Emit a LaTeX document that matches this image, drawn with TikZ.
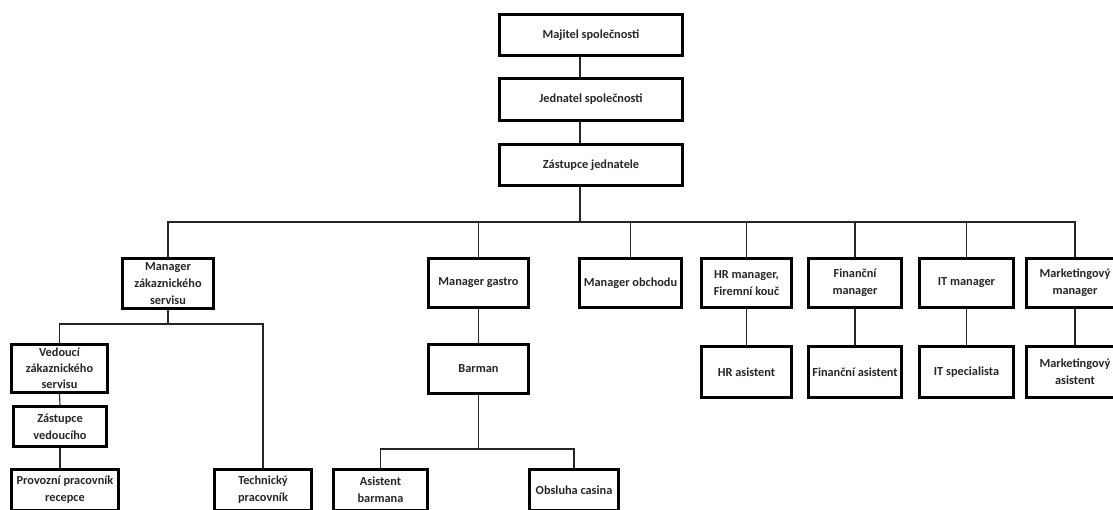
\documentclass[tikz,border=0pt]{standalone}
\usepackage{fontspec}
\setmainfont{Carlito}
\begin{document}
\begin{tikzpicture}[x=1pt,y=-1pt,
  box/.style={draw=black, line width=3pt, rectangle, inner sep=0pt, align=center,
    font=\bfseries\fontsize{12.3}{17}\selectfont, text=black!85},
  conn/.style={draw=black!85, line width=1.1pt}]
\useasboundingbox (0,0) rectangle (1113,509);
\clip (0,0) rectangle (1113,509);
\fill[white] (0,0) rectangle (1113,509);
% top chain
\node[box, minimum width=183pt, minimum height=41pt] (maj) at (591,35) {Majitel společnosti};
\node[box, minimum width=183pt, minimum height=42pt] (jed) at (591,99.5) {Jednatel společnosti};
\node[box, minimum width=183pt, minimum height=41pt] (zas) at (591,165) {Zástupce jednatele};
\coordinate (tr) at (580,0);
\coordinate (bus) at (0,222);
% row 2
\node[box, minimum width=91pt, minimum height=50pt] (mzs) at (168,283.5) {Manager\\zákaznického\\servisu};
\node[box, minimum width=100pt, minimum height=49pt] (mg) at (478.5,283) {Manager gastro};
\node[box, minimum width=102pt, minimum height=49pt] (mo) at (630.5,283) {Manager obchodu};
\node[box, minimum width=90pt, minimum height=49pt] (hr) at (746.5,283) {HR manager,\\Firemní kouč};
\node[box, minimum width=93pt, minimum height=49pt] (fm) at (855,283) {Finanční\\manager};
\node[box, minimum width=94pt, minimum height=49pt] (itm) at (966.5,283) {IT manager};
\node[box, minimum width=97pt, minimum height=49pt] (mm) at (1075,283) {Marketingový\\manager};
% row 3 right
\node[box, minimum width=90pt, minimum height=51pt] (hra) at (746.5,372) {HR asistent};
\node[box, minimum width=93pt, minimum height=51pt] (fa) at (855,372) {Finanční asistent};
\node[box, minimum width=94pt, minimum height=51pt] (its) at (966.5,372) {IT specialista};
\node[box, minimum width=97pt, minimum height=51pt] (ma) at (1075,372) {Marketingový\\asistent};
% left branch
\node[box, minimum width=96pt, minimum height=48pt, font=\bfseries\fontsize{12.3}{16}\selectfont] (ved) at (59.5,368) {Vedoucí\\zákaznického\\servisu};
\node[box, minimum width=93pt, minimum height=40pt] (zv) at (60,426.5) {Zástupce\\vedoucího};
\node[box, minimum width=107pt, minimum height=41pt] (prov) at (65,490) {Provozní pracovník\\recepce};
\node[box, minimum width=97pt, minimum height=41pt] (tech) at (263,490) {Technický\\pracovník};
\coordinate (busL) at (0,324);
% gastro branch
\node[box, minimum width=100pt, minimum height=49pt] (bar) at (478.5,369) {Barman};
\node[box, minimum width=94pt, minimum height=41pt] (ab) at (380.5,490) {Asistent\\barmana};
\node[box, minimum width=89pt, minimum height=41pt] (oc) at (574,490) {Obsluha casina};
\coordinate (busG) at (0,449);
% connectors
\draw[conn] (tr |- maj.south) -- (tr |- jed.north);
\draw[conn] (tr |- jed.south) -- (tr |- zas.north);
\draw[conn] (tr |- zas.south) -- (tr |- bus);
\draw[conn] (mzs.north) -- (mzs.north |- bus) -- (mm.north |- bus) -- (mm.north);
\foreach \n in {mg,mo,hr,fm,itm} \draw[conn] (\n.north) -- (\n.north |- bus);
\draw[conn] (hr.south) -- (hra.north);
\draw[conn] (fm.south) -- (fa.north);
\draw[conn] (itm.south) -- (its.north);
\draw[conn] (mm.south) -- (ma.north);
\draw[conn] (mzs.south) -- (mzs.south |- busL);
\draw[conn] (ved.north) -- (ved.north |- busL) -- (tech.north |- busL) -- (tech.north);
\draw[conn] (ved.south) -- (zv.north);
\draw[conn] (zv.south) -- (zv.south |- prov.north);
\draw[conn] (mg.south) -- (bar.north);
\draw[conn] (bar.south) -- (bar.south |- busG);
\draw[conn] (ab.north) -- (ab.north |- busG) -- (oc.north |- busG) -- (oc.north);
\end{tikzpicture}
\end{document}
